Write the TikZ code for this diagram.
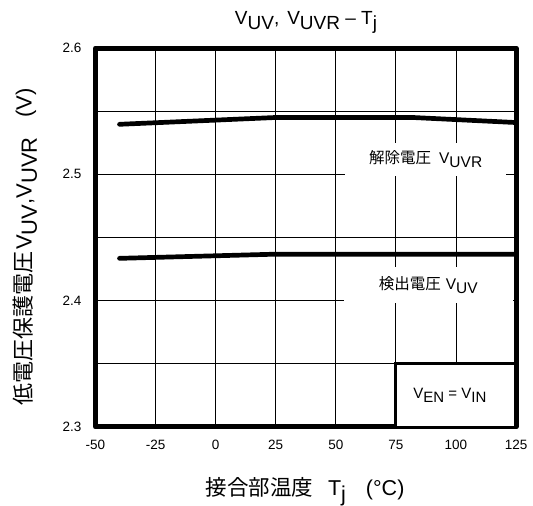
\documentclass[tikz,border=0pt]{standalone}
\usepackage{fontspec}
\setmainfont{Liberation Sans}
\newfontfamily\jpfont{Noto Sans CJK JP}
\usetikzlibrary{calc}

\newcommand\idx[1]{\raisebox{-0.24em}{#1}}

\tikzset{
  gridline/.style={line width=0.8pt, black},
  frameline/.style={line width=5pt, line join=round},
  curveline/.style={line width=4.7pt, line cap=round, line join=round},
  ticklabel/.style={inner sep=0pt, font=\fontsize{13.5pt}{16pt}\selectfont},
  curvelabel/.style={fill=white, inner sep=0pt, font=\fontsize{15.5pt}{18pt}\selectfont},
  axislabel/.style={inner sep=0pt, font=\fontsize{21.5pt}{24pt}\selectfont},
  condbox/.style={draw, fill=white, line width=3pt, inner sep=0pt, font=\fontsize{15pt}{17pt}\selectfont}
}

\begin{document}
\begin{tikzpicture}[x=1pt, y=1pt]
\useasboundingbox (0,0) rectangle (533,506);

% title and axis labels
\node[axislabel, anchor=base, font=\fontsize{19pt}{21pt}\selectfont] (title) at (306,481)
  {V\idx{UV},\hspace{8pt}V\idx{UVR} – T\idx{j}};
\node[axislabel, anchor=base] (xlabel) at (305,10)
  {{\jpfont 接合部温度}\hspace{15pt}T\idx{j}\hspace{20pt}(°C)};
\node[axislabel, rotate=90, font=\fontsize{22pt}{24pt}\selectfont] (ylabel) at (25,259)
  {{\jpfont 低電圧保護電圧}\hspace{2pt}V\idx{UV},V\idx{UVR}\hspace{20pt}(V)};

\begin{scope}[shift={(215.65pt,79pt)}, x=2.403pt, y=12.633pt]
% grid
\foreach \t in {-25,0,...,100} {\draw[gridline] (\t,0) -- (\t,30);};
\foreach \v in {5,10,...,25} {\draw[gridline] (-50,\v) -- (125,\v);};
% curves
\draw[curveline] (-40,23.96) -- (25,24.5) -- (82,24.5) -- (125,24.1);
\draw[curveline] (-40,13.35) -- (25,13.68) -- (125,13.68);
% curve labels
\node[curvelabel, minimum width=161pt, minimum height=33pt] (uvr) at (87.4,21.2)
  {{\jpfont 解除電圧}\hspace{8pt}V\idx{UVR}};
\node[curvelabel, minimum width=169pt, minimum height=36pt] (uv) at (88.5,11.25)
  {{\jpfont 検出電圧}\hspace{5pt}V\idx{UV}};
% frame
\draw[frameline] (-50,0) rectangle (125,30);
\node[condbox, minimum width=120pt, minimum height=64pt] (cond) at (100,2.5)
  {V\idx{EN} = V\idx{IN}\hspace*{12pt}};
% tick labels
\foreach \t in {-50,-25,...,125} {\node[ticklabel] (xt\t) at ($(\t,0)+(0,-18pt)$) {\t};};
\foreach \v/\lab in {0/2.3,10/2.4,20/2.5,30/2.6} {\node[ticklabel, anchor=east] (yt\v) at ($(-50,\v)+(-14pt,0)$) {\lab};};
\end{scope}
\end{tikzpicture}
\end{document}
